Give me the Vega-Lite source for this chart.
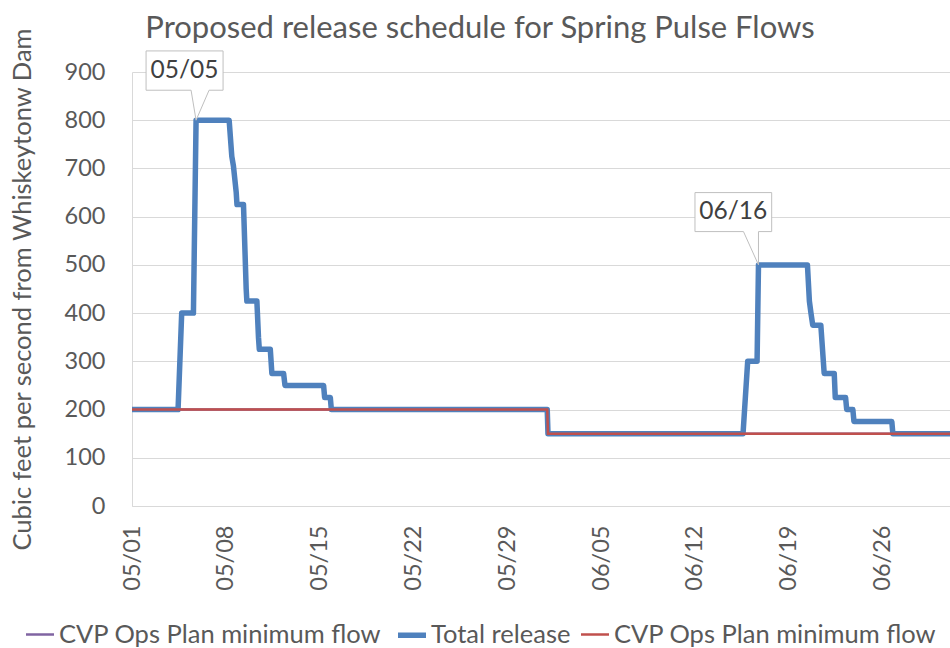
{
  "$schema": "https://vega.github.io/schema/vega-lite/v6.json",
  "autosize": {"type": "none"},
  "width": 818,
  "height": 434,
  "padding": {"left": 132, "top": 72, "right": 0, "bottom": 142},
  "background": "white",
  "title": {
    "text": "Proposed release schedule for Spring Pulse Flows",
    "font": "Lato",
    "fontSize": 31,
    "fontWeight": "normal",
    "color": "#595959",
    "offset": -18,
    "dx": -61
  },
  "datasets": {
    "flows": [
      {"date": "2021-05-01T00:00:00", "series": "Total release", "cfs": 200},
      {"date": "2021-05-04T10:30:00", "series": "Total release", "cfs": 200},
      {"date": "2021-05-04T17:00:00", "series": "Total release", "cfs": 400},
      {"date": "2021-05-05T14:00:00", "series": "Total release", "cfs": 400},
      {"date": "2021-05-05T18:45:00", "series": "Total release", "cfs": 800},
      {"date": "2021-05-08T06:00:00", "series": "Total release", "cfs": 800},
      {"date": "2021-05-08T10:45:00", "series": "Total release", "cfs": 725},
      {"date": "2021-05-08T13:40:00", "series": "Total release", "cfs": 705},
      {"date": "2021-05-08T18:40:00", "series": "Total release", "cfs": 650},
      {"date": "2021-05-08T20:00:00", "series": "Total release", "cfs": 625},
      {"date": "2021-05-09T07:40:00", "series": "Total release", "cfs": 625},
      {"date": "2021-05-09T12:30:00", "series": "Total release", "cfs": 450},
      {"date": "2021-05-09T13:40:00", "series": "Total release", "cfs": 425},
      {"date": "2021-05-10T07:40:00", "series": "Total release", "cfs": 425},
      {"date": "2021-05-10T10:30:00", "series": "Total release", "cfs": 350},
      {"date": "2021-05-10T12:00:00", "series": "Total release", "cfs": 325},
      {"date": "2021-05-11T07:40:00", "series": "Total release", "cfs": 325},
      {"date": "2021-05-11T10:30:00", "series": "Total release", "cfs": 275},
      {"date": "2021-05-12T07:30:00", "series": "Total release", "cfs": 275},
      {"date": "2021-05-12T10:00:00", "series": "Total release", "cfs": 250},
      {"date": "2021-05-15T07:10:00", "series": "Total release", "cfs": 250},
      {"date": "2021-05-15T09:00:00", "series": "Total release", "cfs": 225},
      {"date": "2021-05-15T19:10:00", "series": "Total release", "cfs": 225},
      {"date": "2021-05-15T21:00:00", "series": "Total release", "cfs": 200},
      {"date": "2021-05-31T23:40:00", "series": "Total release", "cfs": 200},
      {"date": "2021-06-01T01:00:00", "series": "Total release", "cfs": 150},
      {"date": "2021-06-15T14:20:00", "series": "Total release", "cfs": 150},
      {"date": "2021-06-15T22:40:00", "series": "Total release", "cfs": 300},
      {"date": "2021-06-16T15:30:00", "series": "Total release", "cfs": 300},
      {"date": "2021-06-16T18:00:00", "series": "Total release", "cfs": 500},
      {"date": "2021-06-20T09:40:00", "series": "Total release", "cfs": 500},
      {"date": "2021-06-20T13:10:00", "series": "Total release", "cfs": 425},
      {"date": "2021-06-20T16:00:00", "series": "Total release", "cfs": 400},
      {"date": "2021-06-20T19:10:00", "series": "Total release", "cfs": 375},
      {"date": "2021-06-21T09:40:00", "series": "Total release", "cfs": 375},
      {"date": "2021-06-21T15:40:00", "series": "Total release", "cfs": 275},
      {"date": "2021-06-22T09:40:00", "series": "Total release", "cfs": 275},
      {"date": "2021-06-22T11:30:00", "series": "Total release", "cfs": 225},
      {"date": "2021-06-23T06:00:00", "series": "Total release", "cfs": 225},
      {"date": "2021-06-23T08:00:00", "series": "Total release", "cfs": 200},
      {"date": "2021-06-23T19:00:00", "series": "Total release", "cfs": 200},
      {"date": "2021-06-23T21:00:00", "series": "Total release", "cfs": 175},
      {"date": "2021-06-26T16:50:00", "series": "Total release", "cfs": 175},
      {"date": "2021-06-26T18:40:00", "series": "Total release", "cfs": 150},
      {"date": "2021-07-01T01:00:00", "series": "Total release", "cfs": 150},
      {"date": "2021-05-01T00:00:00", "series": "CVP Ops Plan minimum flow (a)", "cfs": 200},
      {"date": "2021-05-31T23:40:00", "series": "CVP Ops Plan minimum flow (a)", "cfs": 200},
      {"date": "2021-06-01T01:00:00", "series": "CVP Ops Plan minimum flow (a)", "cfs": 150},
      {"date": "2021-07-01T01:00:00", "series": "CVP Ops Plan minimum flow (a)", "cfs": 150},
      {"date": "2021-05-01T00:00:00", "series": "CVP Ops Plan minimum flow (b)", "cfs": 200},
      {"date": "2021-05-31T23:40:00", "series": "CVP Ops Plan minimum flow (b)", "cfs": 200},
      {"date": "2021-06-01T01:00:00", "series": "CVP Ops Plan minimum flow (b)", "cfs": 150},
      {"date": "2021-07-01T01:00:00", "series": "CVP Ops Plan minimum flow (b)", "cfs": 150}
    ],
    "callouts": [
      {"date": "2021-05-05T18:45:00", "cfs": 800, "label": "05/05"},
      {"date": "2021-06-16T18:00:00", "cfs": 500, "label": "06/16"}
    ]
  },
  "encoding": {
    "x": {
      "field": "date",
      "type": "temporal",
      "scale": {"domain": ["2021-05-01T00:00:00", "2021-07-01T01:00:00"]},
      "axis": {
        "title": null,
        "format": "%m/%d",
        "values": [
          {"year": 2021, "month": 5, "date": 1},
          {"year": 2021, "month": 5, "date": 8},
          {"year": 2021, "month": 5, "date": 15},
          {"year": 2021, "month": 5, "date": 22},
          {"year": 2021, "month": 5, "date": 29},
          {"year": 2021, "month": 6, "date": 5},
          {"year": 2021, "month": 6, "date": 12},
          {"year": 2021, "month": 6, "date": 19},
          {"year": 2021, "month": 6, "date": 26}
        ],
        "labelAngle": 270,
        "labelAlign": "right",
        "labelBaseline": "middle",
        "labelPadding": 19,
        "labelFont": "Lato",
        "labelFontSize": 23.5,
        "labelColor": "#595959",
        "ticks": false,
        "grid": false,
        "domainColor": "#D9D9D9",
        "labelFlush": false,
        "labelOverlap": false
      }
    },
    "y": {
      "field": "cfs",
      "type": "quantitative",
      "scale": {"domain": [0, 900], "nice": false},
      "axis": {
        "title": "Cubic feet per second from Whiskeytonw Dam",
        "titleFont": "Lato",
        "titleFontSize": 25.5,
        "titleFontWeight": "normal",
        "titleColor": "#595959",
        "titleX": -110,
        "titleBaseline": "middle",
        "values": [0, 100, 200, 300, 400, 500, 600, 700, 800, 900],
        "labelFont": "Lato",
        "labelFontSize": 23.5,
        "labelColor": "#595959",
        "labelPadding": 27,
        "ticks": false,
        "grid": true,
        "gridColor": "#D9D9D9",
        "domainColor": "#D9D9D9"
      }
    }
  },
  "layer": [
    {
      "data": {"name": "flows"},
      "transform": [{"filter": "datum.series === 'CVP Ops Plan minimum flow (a)'"}],
      "mark": {"type": "line", "clip": true},
      "encoding": {
        "color": {
          "field": "series",
          "type": "nominal",
          "scale": {
            "domain": ["CVP Ops Plan minimum flow (a)", "Total release", "CVP Ops Plan minimum flow (b)"],
            "range": ["#8064A2", "#4F81BD", "#C0504D"]
          }
        },
        "strokeWidth": {
          "field": "series",
          "type": "nominal",
          "scale": {
            "type": "ordinal",
            "domain": ["CVP Ops Plan minimum flow (a)", "Total release", "CVP Ops Plan minimum flow (b)"],
            "range": [2.5, 5.5, 2.5]
          }
        }
      }
    },
    {
      "data": {"name": "flows"},
      "transform": [{"filter": "datum.series === 'Total release'"}],
      "mark": {"type": "line", "clip": true, "strokeJoin": "round", "strokeCap": "round"},
      "encoding": {
        "color": {
          "field": "series",
          "type": "nominal",
          "scale": {
            "domain": ["CVP Ops Plan minimum flow (a)", "Total release", "CVP Ops Plan minimum flow (b)"],
            "range": ["#8064A2", "#4F81BD", "#C0504D"]
          }
        },
        "strokeWidth": {
          "field": "series",
          "type": "nominal",
          "scale": {
            "type": "ordinal",
            "domain": ["CVP Ops Plan minimum flow (a)", "Total release", "CVP Ops Plan minimum flow (b)"],
            "range": [2.5, 5.5, 2.5]
          }
        }
      }
    },
    {
      "data": {"name": "flows"},
      "transform": [{"filter": "datum.series === 'CVP Ops Plan minimum flow (b)'"}],
      "mark": {"type": "line", "clip": true},
      "encoding": {
        "color": {
          "field": "series",
          "type": "nominal",
          "scale": {
            "domain": ["CVP Ops Plan minimum flow (a)", "Total release", "CVP Ops Plan minimum flow (b)"],
            "range": ["#8064A2", "#4F81BD", "#C0504D"]
          },
          "legend": {
            "title": null,
            "orient": "none",
            "direction": "horizontal",
            "legendX": -109,
            "legendY": 546,
            "columns": 3,
            "columnPadding": 5,
            "symbolType": "stroke",
            "symbolSize": 784,
            "labelFont": "Lato",
            "labelFontSize": 25.5,
            "labelColor": "#595959",
            "labelOffset": 2,
            "labelLimit": 0,
            "labelExpr": "substring(datum.label, 0, 25)"
          }
        },
        "strokeWidth": {
          "field": "series",
          "type": "nominal",
          "scale": {
            "type": "ordinal",
            "domain": ["CVP Ops Plan minimum flow (a)", "Total release", "CVP Ops Plan minimum flow (b)"],
            "range": [2.5, 5.5, 2.5]
          },
          "legend": {
            "title": null,
            "orient": "none",
            "direction": "horizontal",
            "legendX": -109,
            "legendY": 546,
            "columns": 3,
            "columnPadding": 5,
            "symbolType": "stroke",
            "symbolSize": 784,
            "labelFont": "Lato",
            "labelFontSize": 25.5,
            "labelColor": "#595959",
            "labelOffset": 2,
            "labelLimit": 0,
            "labelExpr": "substring(datum.label, 0, 25)"
          }
        }
      }
    },
    {
      "data": {"name": "callouts"},
      "mark": {"type": "point", "filled": true, "fill": "white", "stroke": "#BFBFBF", "strokeWidth": 1, "opacity": 1, "size": 10000},
      "encoding": {
        "shape": {
          "field": "label",
          "type": "nominal",
          "scale": {
            "domain": ["05/05", "06/16"],
            "range": [
              "M-1,-1.386L0.54,-1.386L0.54,-0.6L0.26,-0.6L0,0L-0.1,-0.6L-1,-0.6Z",
              "M-1.27,-1.446L0.264,-1.446L0.264,-0.666L0,-0.666L0,0L-0.3,-0.666L-1.27,-0.666Z"
            ]
          },
          "legend": null
        }
      }
    },
    {
      "data": {"name": "callouts"},
      "transform": [{"filter": "datum.label === '05/05'"}],
      "mark": {"type": "text", "font": "Lato", "fontSize": 24.5, "color": "#404040", "align": "center", "baseline": "middle", "dx": -11.5, "dy": -49.5},
      "encoding": {"text": {"field": "label"}}
    },
    {
      "data": {"name": "callouts"},
      "transform": [{"filter": "datum.label === '06/16'"}],
      "mark": {"type": "text", "font": "Lato", "fontSize": 24.5, "color": "#404040", "align": "center", "baseline": "middle", "dx": -25.2, "dy": -52.8},
      "encoding": {"text": {"field": "label"}}
    }
  ],
  "config": {
    "view": {"stroke": null},
    "font": "Lato"
  }
}
